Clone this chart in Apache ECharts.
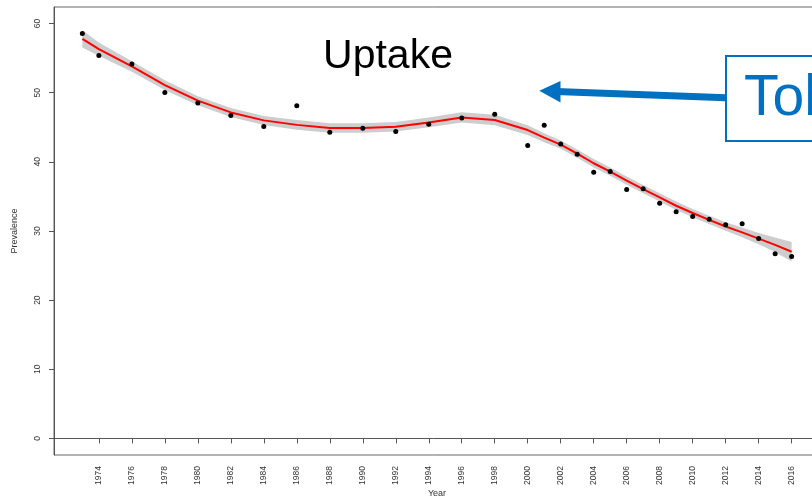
<!DOCTYPE html>
<html>
<head>
<meta charset="utf-8">
<title>Prevalence by year</title>
<script src="https://cdn.jsdelivr.net/npm/echarts@6/dist/echarts.min.js"></script>
<style>
  html, body { margin: 0; padding: 0; background: #fff; }
  #chart { width: 812px; height: 499px; }
</style>
</head>
<body>
<div id="chart"></div>
<script>
// survey years and observed prevalence
const years = [1973, 1974, 1976, 1978, 1980, 1982, 1984, 1986, 1988, 1990, 1992, 1994, 1996, 1998,
  2000, 2001, 2002, 2003, 2004, 2005, 2006, 2007, 2008, 2009, 2010, 2011, 2012, 2013, 2014, 2015, 2016]
const prevalence = [58.55, 55.4, 54.15, 50.05, 48.5, 46.7, 45.1, 48.1, 44.3, 44.85, 44.4, 45.45, 46.35, 46.9,
  42.35, 45.3, 42.6, 41.1, 38.5, 38.6, 36.0, 36.1, 34.0, 32.8, 32.1, 31.7, 30.9, 31.05, 28.9, 26.7, 26.3]
// smoothed fit and half width of its confidence band
const fitted = [57.8, 56.3, 53.8, 51.1, 48.85, 47.15, 46.0, 45.35, 44.9, 44.9, 45.08, 45.7, 46.43, 46.05,
  44.6, 43.5, 42.5, 41.2, 39.8, 38.6, 37.3, 36.05, 34.85, 33.65, 32.6, 31.6, 30.65, 29.8, 28.9, 28.0, 27.0]
const bandHalf = [1.25, 0.95, 0.75, 0.7, 0.65, 0.65, 0.65, 0.7, 0.7, 0.7, 0.7, 0.7, 0.75, 0.75,
  0.7, 0.65, 0.6, 0.6, 0.6, 0.6, 0.6, 0.6, 0.6, 0.6, 0.6, 0.6, 0.62, 0.7, 0.8, 1.05, 1.4]

const xTicks = [1974, 1976, 1978, 1980, 1982, 1984, 1986, 1988, 1990, 1992, 1994, 1996, 1998, 2000,
  2002, 2004, 2006, 2008, 2010, 2012, 2014, 2016]
const yTicks = [0, 10, 20, 30, 40, 50, 60]

const FONT = 'Liberation Sans, Arial, sans-serif'
const BLUE = '#0070C0'

const chartEl = document.getElementById('chart')
const chart = echarts.init(chartEl, null, { renderer: 'canvas' })

const upper = fitted.map((v, i) => v + bandHalf[i])
const lower = fitted.map((v, i) => v - bandHalf[i])

const renderBand = (params, api) => {
  if (params.dataIndex !== 0) return
  const top = years.map((y, i) => api.coord([y, upper[i]]))
  const bottom = years.map((y, i) => api.coord([y, lower[i]])).reverse()
  return {
    type: 'polygon',
    shape: { points: top.concat(bottom) },
    style: { fill: '#cdcdcd', stroke: null }
  }
}

const axisCommon = {
  axisLine: { show: true, lineStyle: { color: '#555', width: 1 } },
  axisTick: { show: true, length: 5, lineStyle: { color: '#555' } },
  splitLine: { show: false },
  nameMoveOverlap: false,
  nameTextStyle: { fontFamily: FONT, fontSize: 9, color: '#333' }
}

const option = {
  animation: false,
  backgroundColor: '#fff',
  grid: {
    left: 54,
    top: 7,
    width: 766,
    height: 448,
    show: true,
    borderColor: '#666',
    borderWidth: 1,
    containLabel: false,
    outerBoundsMode: 'none'
  },
  xAxis: {
    ...axisCommon,
    type: 'value',
    min: 1971.28,
    max: 2017.72,
    name: 'Year',
    nameLocation: 'middle',
    nameGap: 34,
    axisTick: { ...axisCommon.axisTick, customValues: xTicks },
    axisLabel: {
      customValues: xTicks,
      rotate: 90,
      margin: 11,
      fontFamily: FONT,
      fontSize: 8.5,
      color: '#333',
      formatter: (v) => String(v)
    }
  },
  yAxis: {
    ...axisCommon,
    type: 'value',
    min: -2.4,
    max: 62.4,
    name: 'Prevalence',
    nameLocation: 'middle',
    nameGap: 35,
    nameRotate: 90,
    axisTick: { ...axisCommon.axisTick, customValues: yTicks },
    axisLabel: {
      customValues: yTicks,
      rotate: 90,
      margin: 12,
      fontFamily: FONT,
      fontSize: 8.5,
      color: '#333'
    }
  },
  series: [
    {
      name: 'band',
      type: 'custom',
      renderItem: renderBand,
      data: [[years[0], fitted[0]]],
      z: 1,
      silent: true
    },
    {
      name: 'fit',
      type: 'line',
      data: years.map((y, i) => [y, fitted[i]]),
      showSymbol: false,
      lineStyle: { color: '#ff0000', width: 2 },
      z: 2
    },
    {
      name: 'prevalence',
      type: 'scatter',
      data: years.map((y, i) => [y, prevalence[i]]),
      symbolSize: 5,
      itemStyle: { color: '#000', opacity: 1 },
      z: 3
    }
  ],
  graphic: [
    {
      type: 'text',
      x: 388,
      y: 57,
      style: {
        text: 'Uptake',
        fontFamily: FONT,
        fontSize: 41,
        fill: '#000',
        align: 'center',
        verticalAlign: 'middle'
      },
      z: 10
    },
    {
      type: 'line',
      shape: { x1: 726, y1: 97.7, x2: 556, y2: 91.6 },
      style: { stroke: BLUE, lineWidth: 7 },
      z: 10
    },
    {
      type: 'polygon',
      shape: { points: [[539.3, 90.8], [560.5, 81], [560.5, 102.5]] },
      style: { fill: BLUE },
      z: 10
    },
    {
      type: 'rect',
      shape: { x: 726, y: 56, width: 150, height: 85 },
      style: { fill: '#fff', stroke: BLUE, lineWidth: 2 },
      z: 10
    },
    {
      type: 'text',
      x: 744,
      y: 99,
      style: {
        text: 'Tob',
        fontFamily: FONT,
        fontSize: 57,
        fill: BLUE,
        align: 'left',
        verticalAlign: 'middle'
      },
      z: 11
    }
  ]
}

chart.setOption(option)

window.addEventListener('resize', () => chart.resize())
</script>
</body>
</html>
